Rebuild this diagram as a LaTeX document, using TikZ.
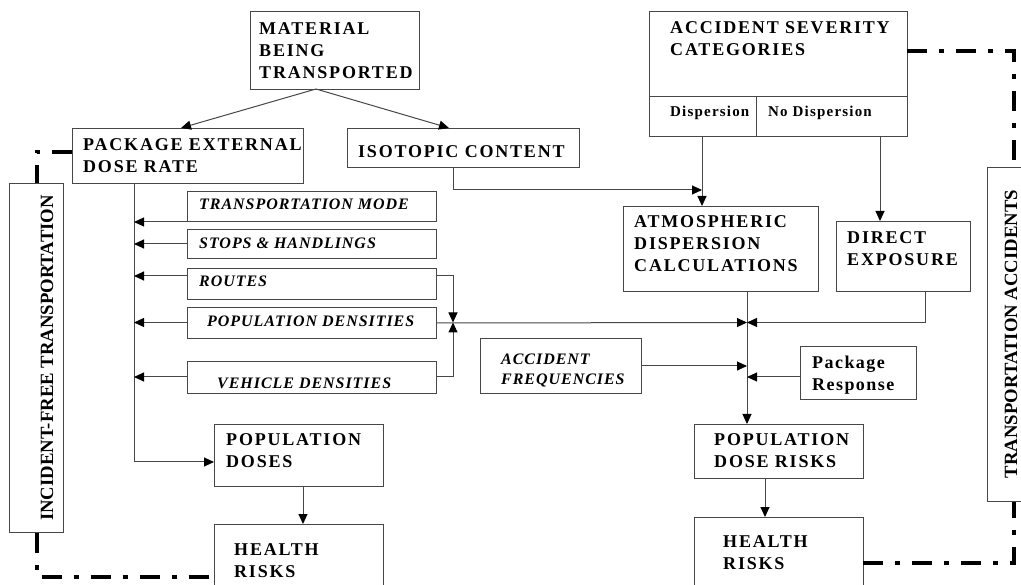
\documentclass[tikz,border=0pt]{standalone}
\usepackage{fontspec}
\setmainfont{Liberation Serif}
\newfontfamily\capfont[LetterSpace=10]{Liberation Serif}
\newfontfamily\itfont[LetterSpace=6]{Liberation Serif}
\newfontfamily\smfont[LetterSpace=8]{Liberation Serif}
\newfontfamily\plainfont{Liberation Serif}
\usetikzlibrary{arrows.meta}
\newcommand\ml[1]{\begin{tabular}[t]{@{}l@{}}#1\end{tabular}}
\tikzset{
  boxnode/.style={draw=black!72, line width=1pt, inner sep=0pt, anchor=north west},
  conn/.style={draw=black!72, line width=1pt},
  arr/.style={conn, -{Triangle[length=10pt,width=9pt,color=black]}},
  thickdd/.style={draw=black, line width=4pt, dash pattern=on 20pt off 12pt on 5pt off 12pt},
  bigtxt/.style={font=\capfont\bfseries\fontsize{18}{22}\selectfont, anchor=base west, inner sep=0pt},
  itxt/.style={font=\itfont\bfseries\itshape\fontsize{16}{20}\selectfont, anchor=base west, inner sep=0pt},
  smtxt/.style={font=\smfont\bfseries\fontsize{15}{18}\selectfont, anchor=base west, inner sep=0pt},
  pkgtxt/.style={font=\smfont\bfseries\fontsize{18}{22}\selectfont, anchor=base west, inner sep=0pt},
  rottxt/.style={font=\plainfont\bfseries\fontsize{18.7}{22}\selectfont, rotate=90, inner sep=0pt, anchor=center},
}
\begin{document}
\begin{tikzpicture}[x=1pt,y=-1pt]
\clip (0,0) rectangle (1021,585);
% boxes
\node[boxnode, minimum width=169pt, minimum height=78pt] (mat) at (250,11) {};
\node[boxnode, minimum width=231pt, minimum height=55pt] (ped) at (72,128) {};
\node[boxnode, minimum width=232pt, minimum height=39pt] (iso) at (347,128) {};
\node[boxnode, minimum width=258pt, minimum height=125pt] (asc) at (649,11) {};
\node[boxnode, minimum width=195pt, minimum height=85pt] (atm) at (623,206) {};
\node[boxnode, minimum width=134pt, minimum height=70pt] (dex) at (836,221) {};
\node[boxnode, minimum width=249pt, minimum height=30pt] (tm) at (187,191) {};
\node[boxnode, minimum width=249pt, minimum height=29pt] (sh) at (187,229) {};
\node[boxnode, minimum width=249pt, minimum height=31pt] (rt) at (187,268) {};
\node[boxnode, minimum width=249pt, minimum height=31pt] (pd) at (187,307) {};
\node[boxnode, minimum width=249pt, minimum height=32pt] (vd) at (187,361) {};
\node[boxnode, minimum width=161pt, minimum height=55pt] (af) at (480,338) {};
\node[boxnode, minimum width=116pt, minimum height=53pt] (pr) at (800,346) {};
\node[boxnode, minimum width=169pt, minimum height=62pt] (pdo) at (214,424) {};
\node[boxnode, minimum width=169pt, minimum height=80pt] (hra) at (214,524) {};
\node[boxnode, minimum width=169pt, minimum height=54pt] (pdr) at (694,424) {};
\node[boxnode, minimum width=169pt, minimum height=85pt] (hrb) at (694,517) {};
\node[boxnode, minimum width=54pt, minimum height=349pt] (ift) at (9,183) {};
\node[boxnode, minimum width=52pt, minimum height=334pt] (ta) at (987,167) {};
% divisions in severity box
\coordinate (divl) at (649,97);
\coordinate (divm) at (756,97);
\draw[conn] (divl) -- (divl -| asc.east);
\draw[conn] (divm) -- (divm |- asc.south);
% texts
\node[bigtxt] (matT) at (259,35) {\ml{MATERIAL\\BEING\\TRANSPORTED}};
\node[bigtxt] (pedT) at (83,151) {\ml{PACKAGE EXTERNAL\\DOSE RATE}};
\node[bigtxt] (isoT) at (358,158) {ISOTOPIC CONTENT};
\node[bigtxt] (ascT) at (670,34) {\ml{ACCIDENT SEVERITY\\CATEGORIES}};
\node[smtxt] (dispT) at (670,117) {Dispersion};
\node[smtxt] (ndispT) at (768,117) {No Dispersion};
\node[bigtxt] (atmT) at (634,228) {\ml{ATMOSPHERIC\\DISPERSION\\CALCULATIONS}};
\node[bigtxt] (dexT) at (847,244) {\ml{DIRECT\\EXPOSURE}};
\node[itxt] (tmT) at (199,210) {TRANSPORTATION MODE};
\node[itxt] (shT) at (199,249) {STOPS \& HANDLINGS};
\node[itxt] (rtT) at (199,287) {ROUTES};
\node[itxt] (pdT) at (207,327) {POPULATION DENSITIES};
\node[itxt] (vdT) at (217,389) {VEHICLE DENSITIES};
\node[itxt] (afT) at (501,365) {\ml{ACCIDENT\\FREQUENCIES}};
\node[pkgtxt] (prT) at (812,369) {\ml{Package\\Response}};
\node[bigtxt] (pdoT) at (226,446) {\ml{POPULATION\\DOSES}};
\node[bigtxt] (hraT) at (234,555) {\ml{HEALTH\\RISKS}};
\node[bigtxt] (pdrT) at (714,446) {\ml{POPULATION\\DOSE RISKS}};
\node[bigtxt] (hrbT) at (723,547) {\ml{HEALTH\\RISKS}};
\node[rottxt] (iftT) at (47,358) {INCIDENT-FREE TRANSPORTATION};
\node[rottxt] (taT) at (1011,334) {TRANSPORTATION ACCIDENTS};
% connectors
\coordinate (matb) at (316,89);
\coordinate (pedin) at (181,128);
\coordinate (isoin) at (449,128);
\draw[arr] (matb) -- (pedin);
\draw[arr] (matb) -- (isoin);
\coordinate (isoout) at (453,167);
\coordinate (dispx) at (702,190);
\draw[arr] (isoout) |- (dispx);
\coordinate (ascd) at (702,136);
\draw[arr] (ascd) -- (ascd |- atm.north);
\coordinate (ascn) at (880,136);
\draw[arr] (ascn) -- (ascn |- dex.north);
% incident-free trunk
\coordinate (trunk) at (134,183);
\coordinate (pdoin) at (214,462);
\draw[arr] (trunk) |- (pdoin);
\draw[arr] (tm.south west) -- (tm.south west -| trunk);
\coordinate (shL) at (187,244);
\draw[arr] (shL) -- (shL -| trunk);
\coordinate (rtL) at (187,276);
\draw[arr] (rtL) -- (rtL -| trunk);
\coordinate (pdL) at (187,322.5);
\draw[arr] (pdL) -- (pdL -| trunk);
\coordinate (vdL) at (187,377);
\draw[arr] (vdL) -- (vdL -| trunk);
% routes / vehicle to junction
\coordinate (junc) at (453,322.5);
\coordinate (rtR) at (436,276);
\coordinate (vdR) at (436,377);
\draw[arr] (rtR) -| (junc);
\draw[arr] (vdR) -| (junc);
% accident trunk
\coordinate (atrunk) at (747,291);
\coordinate (aj) at (747,322.5);
\draw[arr] (pd.east) -- (aj);
\draw[arr] (atrunk) -- (atrunk |- pdr.north);
\coordinate (dexo) at (925,291);
\draw[arr] (dexo) |- (aj);
\draw[arr] (af.east) -- (af.east -| atrunk);
\coordinate (prL) at (800,377);
\draw[arr] (prL) -- (prL -| atrunk);
\coordinate (pdrb) at (765,478);
\draw[arr] (pdrb) -- (pdrb |- hrb.north);
\coordinate (pdob) at (303,486);
\draw[arr] (pdob) -- (pdob |- hra.north);
% thick dash-dot links
\coordinate (pedL) at (72,152);
\draw[thickdd] (pedL) -| (ift.north);
\coordinate (hraL) at (214,577);
\draw[thickdd] (ift.south) |- (hraL);
\coordinate (ascR) at (907,51);
\draw[thickdd] (ascR) -| (ta.north);
\coordinate (hrbR) at (863,563);
\draw[thickdd] (hrbR) -| (ta.south);
\end{tikzpicture}
\end{document}
